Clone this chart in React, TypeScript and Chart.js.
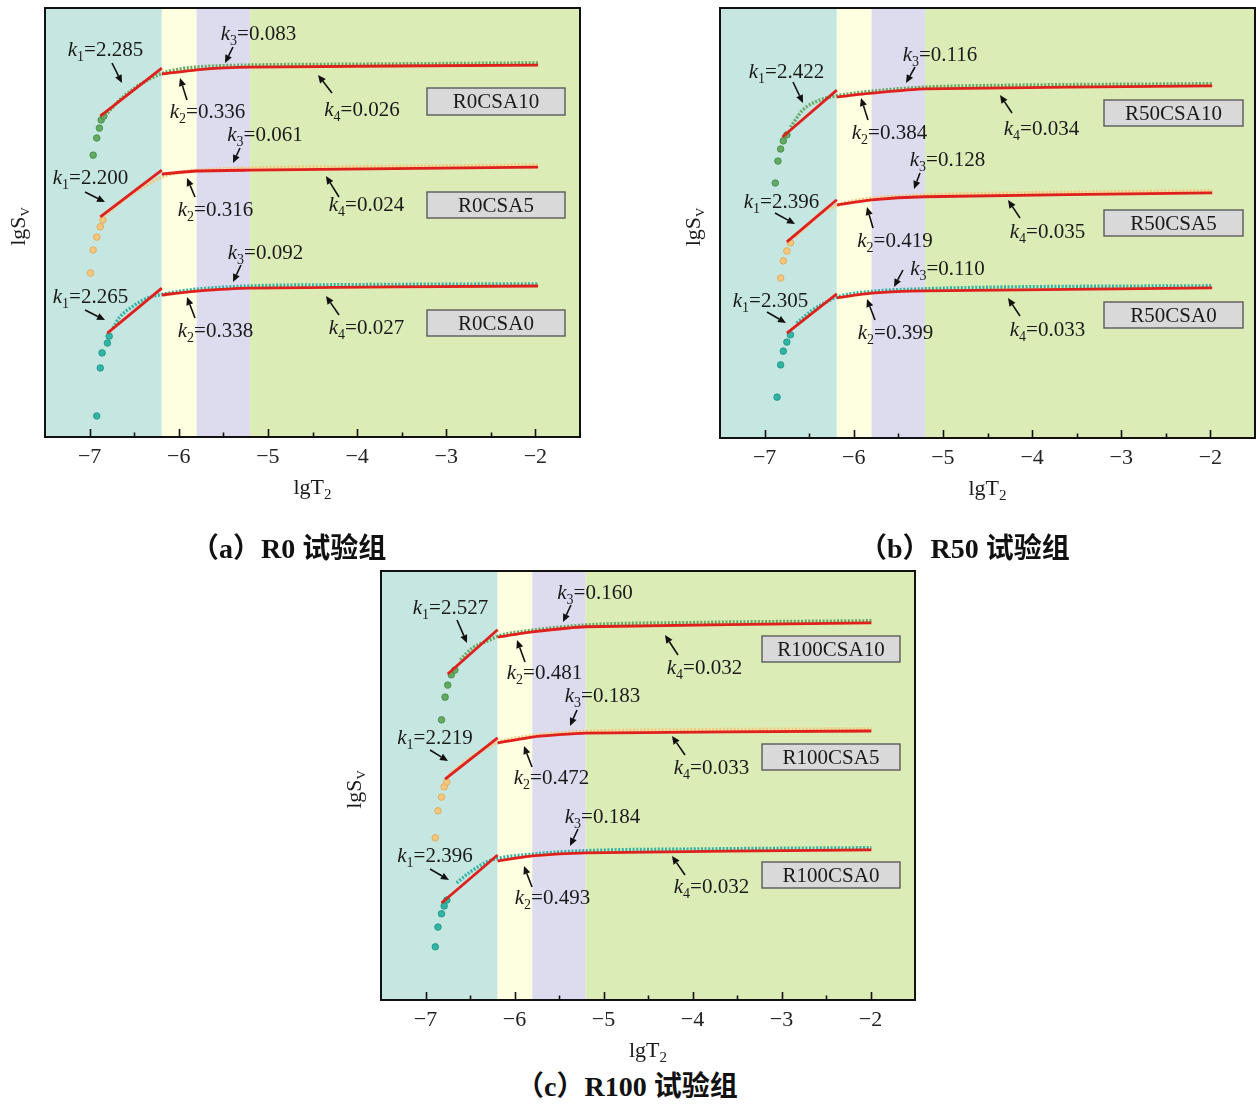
import React, { useEffect, useRef } from "react";
import { Chart, registerables } from "chart.js";

Chart.register(...registerables);

type P = [number, number];

// ---------- shared axis / band values ----------
const xTickValues = [-7, -6, -5, -4, -3, -2];
const xMinorTickValues = [-6.5, -5.5, -4.5, -3.5, -2.5];
const bandEdges = [-7.5, -6.19, -5.8, -5.2, -1.5];
const bandColors = ["#c6e7e1", "#fefee0", "#dddcee", "#dcecb6"];
const seriesColors = ["#64a964", "#f5c77c", "#31b4a4"];
const seriesEdge = ["#3e8a45", "#dda653", "#1a9383"];
const RED = "#e0201c";

// ---------- (a) R0 ----------
const r0Names = ["R0CSA10", "R0CSA5", "R0CSA0"];
const r0Slopes = [
  [2.285, 0.336, 0.083, 0.026],
  [2.2, 0.316, 0.061, 0.024],
  [2.265, 0.338, 0.092, 0.027],
];
const r0csa10Dots: P[] = [[-6.96, 6.57], [-6.92, 6.97], [-6.89, 7.2], [-6.87, 7.39], [-6.84, 7.48]];
const r0csa10Curve: P[] = [[-6.8, 7.55], [-6.66, 7.86], [-6.49, 8.14], [-6.32, 8.35], [-6.17, 8.49], [-5.98, 8.58], [-5.76, 8.63], [-5.2, 8.67], [-4.07, 8.69], [-1.97, 8.72]];
const r0csa10FitK1: P[] = [[-6.88, 7.48], [-6.19, 8.6]];
const r0csa10FitK234: P[] = [[-6.19, 8.46], [-5.8, 8.56], [-5.2, 8.62], [-1.97, 8.67]];

const r0csa5Dots: P[] = [[-6.99, 3.82], [-6.96, 4.36], [-6.92, 4.66], [-6.88, 4.9], [-6.85, 5.06]];
const r0csa5Curve: P[] = [[-6.82, 5.18], [-6.66, 5.46], [-6.49, 5.71], [-6.32, 5.92], [-6.17, 6.08], [-5.98, 6.17], [-5.76, 6.22], [-5.2, 6.27], [-4.07, 6.3], [-1.97, 6.34]];
const r0csa5FitK1: P[] = [[-6.88, 5.13], [-6.19, 6.22]];
const r0csa5FitK234: P[] = [[-6.19, 6.13], [-5.8, 6.2], [-5.2, 6.22], [-1.97, 6.29]];

const r0csa0Dots: P[] = [[-6.92, 0.49], [-6.88, 1.61], [-6.86, 1.96], [-6.8, 2.19], [-6.78, 2.35]];
const r0csa0Curve: P[] = [[-6.74, 2.54], [-6.66, 2.8], [-6.51, 3.05], [-6.35, 3.24], [-6.17, 3.33], [-5.87, 3.43], [-5.2, 3.52], [-4.07, 3.55], [-1.97, 3.57]];
const r0csa0FitK1: P[] = [[-6.8, 2.42], [-6.19, 3.47]];
const r0csa0FitK234: P[] = [[-6.19, 3.31], [-5.8, 3.4], [-5.2, 3.47], [-1.97, 3.52]];

// ---------- (b) R50 ----------
const r50Names = ["R50CSA10", "R50CSA5", "R50CSA0"];
const r50Slopes = [
  [2.422, 0.384, 0.116, 0.034],
  [2.396, 0.419, 0.128, 0.035],
  [2.305, 0.399, 0.11, 0.033],
];
const r50csa10Dots: P[] = [[-6.88, 5.93], [-6.85, 6.44], [-6.82, 6.72], [-6.79, 6.91], [-6.75, 7.05]];
const r50csa10Curve: P[] = [[-6.71, 7.23], [-6.57, 7.63], [-6.38, 7.86], [-6.19, 7.96], [-5.82, 8.06], [-5.2, 8.16], [-4.35, 8.2], [-1.98, 8.24]];
const r50csa10FitK1: P[] = [[-6.8, 7.0], [-6.19, 8.09]];
const r50csa10FitK234: P[] = [[-6.19, 7.93], [-5.8, 8.02], [-5.2, 8.12], [-1.98, 8.19]];

const r50csa5Dots: P[] = [[-6.82, 3.72], [-6.79, 4.12], [-6.75, 4.35], [-6.71, 4.54]];
const r50csa5Curve: P[] = [[-6.66, 4.67], [-6.55, 4.88], [-6.38, 5.21], [-6.19, 5.41], [-5.82, 5.57], [-5.2, 5.65], [-4.35, 5.69], [-1.98, 5.75]];
const r50csa5FitK1: P[] = [[-6.75, 4.56], [-6.19, 5.54]];
const r50csa5FitK234: P[] = [[-6.19, 5.42], [-5.8, 5.54], [-5.2, 5.61], [-1.98, 5.7]];

const r50csa0Dots: P[] = [[-6.86, 0.95], [-6.82, 1.7], [-6.79, 2.02], [-6.75, 2.23], [-6.71, 2.4]];
const r50csa0Curve: P[] = [[-6.64, 2.67], [-6.46, 2.98], [-6.26, 3.21], [-6.19, 3.28], [-5.79, 3.41], [-5.2, 3.47], [-4.35, 3.51], [-1.98, 3.54]];
const r50csa0FitK1: P[] = [[-6.75, 2.44], [-6.19, 3.35]];
const r50csa0FitK234: P[] = [[-6.19, 3.26], [-5.8, 3.37], [-5.2, 3.42], [-1.98, 3.49]];

// ---------- (c) R100 ----------
const r100Names = ["R100CSA10", "R100CSA5", "R100CSA0"];
const r100Slopes = [
  [2.527, 0.481, 0.16, 0.032],
  [2.219, 0.472, 0.183, 0.033],
  [2.396, 0.493, 0.184, 0.032],
];
const r100csa10Dots: P[] = [[-6.82, 6.53], [-6.78, 7.06], [-6.75, 7.34], [-6.71, 7.58], [-6.67, 7.69]];
const r100csa10Curve: P[] = [[-6.61, 7.93], [-6.47, 8.21], [-6.28, 8.39], [-6.19, 8.48], [-5.8, 8.62], [-5.21, 8.74], [-3.92, 8.8], [-1.99, 8.84]];
const r100csa10FitK1: P[] = [[-6.75, 7.6], [-6.19, 8.63]];
const r100csa10FitK234: P[] = [[-6.19, 8.46], [-5.8, 8.58], [-5.2, 8.7], [-1.99, 8.79]];

const r100csa5Dots: P[] = [[-6.89, 3.78], [-6.86, 4.41], [-6.82, 4.73], [-6.79, 4.97], [-6.76, 5.08]];
const r100csa5Curve: P[] = [[-6.73, 5.25], [-6.56, 5.55], [-6.39, 5.78], [-6.19, 6.0], [-5.8, 6.16], [-5.21, 6.26], [-3.92, 6.3], [-1.99, 6.32]];
const r100csa5FitK1: P[] = [[-6.78, 5.15], [-6.19, 6.11]];
const r100csa5FitK234: P[] = [[-6.19, 5.99], [-5.8, 6.13], [-5.2, 6.22], [-1.99, 6.27]];

const r100csa0Dots: P[] = [[-6.89, 1.24], [-6.86, 1.7], [-6.82, 2.01], [-6.79, 2.19], [-6.76, 2.33]];
const r100csa0Curve: P[] = [[-6.65, 2.73], [-6.5, 2.98], [-6.31, 3.22], [-6.19, 3.3], [-5.8, 3.4], [-5.21, 3.48], [-3.92, 3.52], [-1.99, 3.55]];
const r100csa0FitK1: P[] = [[-6.82, 2.26], [-6.19, 3.38]];
const r100csa0FitK234: P[] = [[-6.19, 3.24], [-5.8, 3.36], [-5.2, 3.43], [-1.99, 3.5]];

// ---------- annotation layout (pixels relative to plot-area top-left) ----------
// each k entry: [textCx, textCy, arrowTailX, arrowTailY, arrowHeadX, arrowHeadY]
const layoutA = [
  { k: [[60.5, 40.5, 67, 55, 77, 75], [162.5, 103, 142, 92, 135, 70], [213.5, 24.5, 188, 39, 180, 55], [317, 100.5, 287, 85, 273, 67]], box: [382, 80, 138, 27] },
  { k: [[45.5, 169, 40, 184, 60, 194], [170.5, 200.5, 150, 189, 142, 170], [220, 125.5, 195, 140, 188, 155], [321.5, 196, 294, 189, 281, 168]], box: [382, 184, 138, 26] },
  { k: [[45.5, 287.5, 40, 302, 60, 312], [170.5, 321.5, 150, 310, 142, 289], [220.5, 243.5, 196, 257, 188, 274], [321.5, 319, 294, 307, 281, 288]], box: [382, 302, 138, 26] },
];
const layoutB = [
  { k: [[66.5, 62.5, 73, 74, 83, 95], [169.5, 123.5, 148, 112, 141, 90], [220, 45.5, 195, 59, 186, 75], [321.5, 119.5, 292, 105, 280, 87]], box: [384, 92, 139, 26] },
  { k: [[61.5, 192.5, 55, 205, 75, 216], [175, 232, 153, 220, 147, 199], [227.5, 150.5, 200, 165, 194, 181], [327.5, 223, 300, 210, 288, 192]], box: [384, 202, 139, 26] },
  { k: [[50.5, 291.5, 47, 304, 66, 315], [175.5, 323.5, 155, 312, 147, 291], [227.5, 259.5, 183, 262, 174, 279], [327.5, 321, 300, 308, 288, 290]], box: [384, 294, 139, 26] },
];
const layoutC = [
  { k: [[69.5, 35.5, 76, 49, 86, 72], [163.5, 100.5, 144, 91, 136, 69], [214, 20.5, 190, 34, 182, 51], [323.5, 95.5, 297, 84, 284, 64]], box: [381, 65, 138, 26] },
  { k: [[54, 165.5, 49, 179, 67, 190], [170.5, 205.5, 151, 196, 143, 175], [221.5, 124, 196, 139, 189, 155], [330.5, 195.5, 304, 184, 291, 165]], box: [381, 173, 138, 26] },
  { k: [[54, 284, 49, 298, 68, 309], [171.5, 325.5, 151, 316, 143, 295], [221.5, 244.5, 197, 258, 189, 275], [330.5, 315, 304, 304, 291, 285]], box: [381, 291, 138, 26] },
];

const SERIF = '"Liberation Serif", "Times New Roman", serif';

type Series = { dots: P[]; curve: P[]; fitK1: P[]; fitK234: P[] };
type PanelCfg = {
  left: number; top: number; width: number; height: number;
  padLeft: number; padTop: number; padRight: number; xAxisHeight: number;
  series: Series[]; names: string[]; slopes: number[][]; layout: { k: number[][]; box: number[] }[];
};

const panels: PanelCfg[] = [
  {
    left: 0, top: 0, width: 600, height: 500, padLeft: 45, padTop: 8, padRight: 20, xAxisHeight: 63,
    series: [
      { dots: r0csa10Dots, curve: r0csa10Curve, fitK1: r0csa10FitK1, fitK234: r0csa10FitK234 },
      { dots: r0csa5Dots, curve: r0csa5Curve, fitK1: r0csa5FitK1, fitK234: r0csa5FitK234 },
      { dots: r0csa0Dots, curve: r0csa0Curve, fitK1: r0csa0FitK1, fitK234: r0csa0FitK234 },
    ],
    names: r0Names, slopes: r0Slopes, layout: layoutA,
  },
  {
    left: 675, top: 0, width: 585, height: 500, padLeft: 45, padTop: 8, padRight: 5, xAxisHeight: 62,
    series: [
      { dots: r50csa10Dots, curve: r50csa10Curve, fitK1: r50csa10FitK1, fitK234: r50csa10FitK234 },
      { dots: r50csa5Dots, curve: r50csa5Curve, fitK1: r50csa5FitK1, fitK234: r50csa5FitK234 },
      { dots: r50csa0Dots, curve: r50csa0Curve, fitK1: r50csa0FitK1, fitK234: r50csa0FitK234 },
    ],
    names: r50Names, slopes: r50Slopes, layout: layoutB,
  },
  {
    left: 336, top: 563, width: 600, height: 500, padLeft: 45, padTop: 8, padRight: 21, xAxisHeight: 63,
    series: [
      { dots: r100csa10Dots, curve: r100csa10Curve, fitK1: r100csa10FitK1, fitK234: r100csa10FitK234 },
      { dots: r100csa5Dots, curve: r100csa5Curve, fitK1: r100csa5FitK1, fitK234: r100csa5FitK234 },
      { dots: r100csa0Dots, curve: r100csa0Curve, fitK1: r100csa0FitK1, fitK234: r100csa0FitK234 },
    ],
    names: r100Names, slopes: r100Slopes, layout: layoutC,
  },
];

const captions = [
  { text: "（a）R0 试验组", left: 191, top: 533 },
  { text: "（b）R50 试验组", left: 859, top: 533 },
  { text: "（c）R100 试验组", left: 516, top: 1071 },
];

const toPts = (arr: P[]) => arr.map(([x, y]) => ({ x, y }));

function drawK(ctx: CanvasRenderingContext2D, cx: number, cy: number, idx: number, val: number) {
  const ital = `italic 21px ${SERIF}`;
  const main = `21px ${SERIF}`;
  const sub = `14px ${SERIF}`;
  const rest = "=" + val.toFixed(3);
  ctx.font = ital;
  const wk = ctx.measureText("k").width;
  ctx.font = sub;
  const ws = ctx.measureText(String(idx)).width;
  ctx.font = main;
  const wr = ctx.measureText(rest).width;
  let x0 = cx - (wk + ws + wr) / 2;
  const base = cy + 7;
  ctx.textAlign = "left";
  ctx.textBaseline = "alphabetic";
  ctx.fillStyle = "#1a1a1a";
  ctx.font = ital;
  ctx.fillText("k", x0, base);
  x0 += wk;
  ctx.font = sub;
  ctx.fillText(String(idx), x0, base + 5);
  x0 += ws;
  ctx.font = main;
  ctx.fillText(rest, x0, base);
}

function drawArrow(ctx: CanvasRenderingContext2D, x1: number, y1: number, x2: number, y2: number) {
  const ang = Math.atan2(y2 - y1, x2 - x1);
  const hl = 8, hw = 3.6;
  const bx = x2 - hl * Math.cos(ang), by = y2 - hl * Math.sin(ang);
  ctx.strokeStyle = "#111";
  ctx.fillStyle = "#111";
  ctx.lineWidth = 1.6;
  ctx.beginPath();
  ctx.moveTo(x1, y1);
  ctx.lineTo(bx, by);
  ctx.stroke();
  ctx.beginPath();
  ctx.moveTo(x2, y2);
  ctx.lineTo(bx + hw * Math.sin(ang), by - hw * Math.cos(ang));
  ctx.lineTo(bx - hw * Math.sin(ang), by + hw * Math.cos(ang));
  ctx.closePath();
  ctx.fill();
}

function makeDecor(cfg: PanelCfg) {
  return {
    id: "decor",
    beforeDatasetsDraw(chart: any) {
      const { ctx, chartArea: a, scales } = chart;
      const x = scales.x;
      ctx.save();
      for (let i = 0; i < bandColors.length; i++) {
        const x0 = x.getPixelForValue(bandEdges[i]);
        const x1 = x.getPixelForValue(bandEdges[i + 1]);
        ctx.fillStyle = bandColors[i];
        ctx.fillRect(x0, a.top, x1 - x0, a.bottom - a.top);
      }
      ctx.restore();
    },
    afterDatasetsDraw(chart: any) {
      const { ctx, chartArea: a, scales } = chart;
      const x = scales.x;
      ctx.save();
      // frame
      ctx.strokeStyle = "#111";
      ctx.lineWidth = 2;
      ctx.strokeRect(a.left, a.top, a.right - a.left, a.bottom - a.top);
      // inward ticks
      ctx.lineWidth = 1.6;
      ctx.beginPath();
      xTickValues.forEach((v) => {
        const px = Math.round(x.getPixelForValue(v)) + 0.5;
        ctx.moveTo(px, a.bottom);
        ctx.lineTo(px, a.bottom - 8);
      });
      xMinorTickValues.forEach((v) => {
        const px = Math.round(x.getPixelForValue(v)) + 0.5;
        ctx.moveTo(px, a.bottom);
        ctx.lineTo(px, a.bottom - 4.5);
      });
      ctx.stroke();

      // annotations
      cfg.layout.forEach((lay, si) => {
        lay.k.forEach((k, ki) => {
          drawArrow(ctx, a.left + k[2], a.top + k[3], a.left + k[4], a.top + k[5]);
          drawK(ctx, a.left + k[0], a.top + k[1], ki + 1, cfg.slopes[si][ki]);
        });
        const [bx, by, bw, bh] = lay.box;
        ctx.fillStyle = "#d9d9d9";
        ctx.fillRect(a.left + bx, a.top + by, bw, bh);
        ctx.strokeStyle = "#5a5a5a";
        ctx.lineWidth = 1.4;
        ctx.strokeRect(a.left + bx, a.top + by, bw, bh);
        ctx.fillStyle = "#1a1a1a";
        ctx.font = `21px ${SERIF}`;
        ctx.textAlign = "center";
        ctx.textBaseline = "middle";
        ctx.fillText(cfg.names[si], a.left + bx + bw / 2, a.top + by + bh / 2 + 1);
      });

      // x title lgT2
      const cx = (a.left + a.right) / 2;
      ctx.fillStyle = "#1a1a1a";
      ctx.textAlign = "left";
      ctx.textBaseline = "alphabetic";
      ctx.font = `22px ${SERIF}`;
      const w1 = ctx.measureText("lgT").width;
      ctx.font = `15px ${SERIF}`;
      const w2 = ctx.measureText("2").width;
      const tx = cx - (w1 + w2) / 2;
      const ty = a.bottom + 57;
      ctx.font = `22px ${SERIF}`;
      ctx.fillText("lgT", tx, ty);
      ctx.font = `15px ${SERIF}`;
      ctx.fillText("2", tx + w1, ty + 5);

      // y title lgSv
      ctx.save();
      ctx.translate(a.left - 20, (a.top + a.bottom) / 2 + 4);
      ctx.rotate(-Math.PI / 2);
      ctx.font = `22px ${SERIF}`;
      const s1 = ctx.measureText("lgS").width;
      ctx.font = `13px ${SERIF}`;
      const s2 = ctx.measureText("V").width;
      const sx = -(s1 + s2) / 2;
      ctx.font = `22px ${SERIF}`;
      ctx.fillText("lgS", sx, 0);
      ctx.font = `13px ${SERIF}`;
      ctx.fillText("V", sx + s1, 4);
      ctx.restore();

      ctx.restore();
    },
  };
}

function Panel({ cfg }: { cfg: PanelCfg }) {
  const ref = useRef<HTMLCanvasElement>(null);
  useEffect(() => {
    const canvas = ref.current;
    if (!canvas) return;
    const datasets: any[] = [];
    cfg.series.forEach((s, i) => {
      datasets.push({
        data: toPts(s.fitK1), showLine: true, borderColor: RED, borderWidth: 2.8,
        pointRadius: 0, order: 0,
      });
      datasets.push({
        data: toPts(s.fitK234), showLine: true, borderColor: RED, borderWidth: 2.8,
        pointRadius: 0, order: 0, tension: 0.2,
      });
      datasets.push({
        data: toPts(s.curve), showLine: true, borderColor: seriesColors[i], borderWidth: 3.4,
        borderDash: [2, 1.6], pointRadius: 0, cubicInterpolationMode: "monotone", order: 1,
      });
      datasets.push({
        data: toPts(s.dots), showLine: false, pointRadius: 3.3,
        pointBackgroundColor: seriesColors[i], pointBorderColor: seriesEdge[i], pointBorderWidth: 0.8,
        order: 2,
      });
    });
    const chart = new Chart(canvas, {
      type: "scatter",
      data: { datasets },
      options: {
        animation: false,
        responsive: false,
        events: [],
        layout: { padding: { left: cfg.padLeft, top: cfg.padTop, right: cfg.padRight, bottom: 0 } },
        plugins: { legend: { display: false }, tooltip: { enabled: false } },
        scales: {
          x: {
            type: "linear",
            min: -7.5,
            max: -1.5,
            grid: { display: false, drawTicks: false },
            border: { display: false },
            afterFit: (s: any) => {
              s.height = cfg.xAxisHeight;
            },
            afterBuildTicks: (s: any) => {
              s.ticks = xTickValues.map((v) => ({ value: v }));
            },
            ticks: {
              autoSkip: false,
              maxRotation: 0,
              padding: 7,
              color: "#222",
              font: { family: SERIF, size: 22 },
              callback: (v: any) => (Number(v) < 0 ? "\u2212" : "") + Math.abs(Number(v)),
            },
          },
          y: { type: "linear", min: 0, max: 10, display: false },
        },
      } as any,
      plugins: [makeDecor(cfg)],
    });
    return () => chart.destroy();
  }, [cfg]);
  return (
    <canvas
      ref={ref}
      width={cfg.width}
      height={cfg.height}
      style={{ position: "absolute", left: cfg.left, top: cfg.top, width: cfg.width, height: cfg.height }}
    />
  );
}

export default function App() {
  return (
    <div style={{ position: "absolute", left: 0, top: 0, width: 1260, height: 1104, background: "#fff", overflow: "hidden" }}>
      {panels.map((p, i) => (
        <Panel key={i} cfg={p} />
      ))}
      {captions.map((c, i) => (
        <div
          key={i}
          style={{
            position: "absolute",
            left: c.left,
            top: c.top,
            whiteSpace: "nowrap",
            font: `bold 28px "Liberation Serif", "Noto Sans CJK SC", serif`,
            lineHeight: "32px",
            color: "#111",
          }}
        >
          {c.text}
        </div>
      ))}
    </div>
  );
}
